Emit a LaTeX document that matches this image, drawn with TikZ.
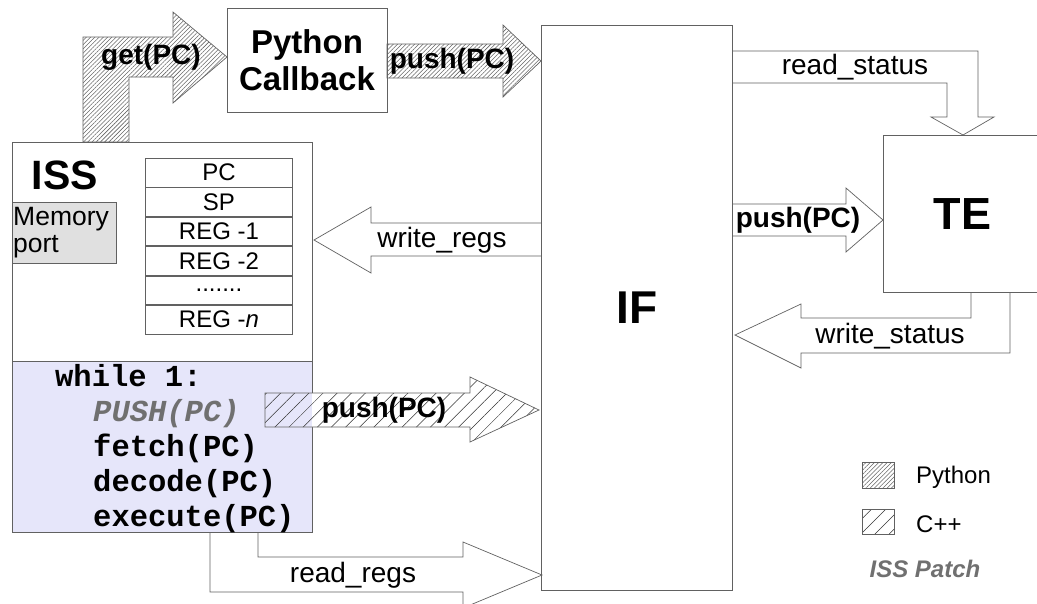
\documentclass[tikz,border=0pt]{standalone}
\usepackage{fontspec}
\setmainfont{Liberation Sans}
\setmonofont{Liberation Mono}
\usetikzlibrary{patterns.meta}

\definecolor{edge}{gray}{0.38}
\definecolor{lav}{RGB}{230,230,250}
\definecolor{portfill}{RGB}{224,224,224}
\definecolor{patchgray}{RGB}{112,112,112}
\newcommand{\fsz}[1]{\fontsize{#1pt}{#1pt}\selectfont}

\begin{document}
\begin{tikzpicture}[x=1pt,y=-1pt,
  box/.style={draw=edge, line width=0.9pt, inner sep=0pt},
  blk/.style={draw=edge, line width=0.7pt, line join=miter},
  pyhatch/.style={pattern={Lines[angle=45,distance=3pt,line width=0.55pt]}, pattern color=black!60},
  cpphatch/.style={pattern={Lines[angle=45,distance=10pt,line width=0.5pt]}, pattern color=black!80},
  lbl/.style={font=\fsz{28}, inner sep=0pt},
  blbl/.style={font=\fsz{28}\bfseries, inner sep=0pt},
  code/.style={font=\fsz{30.5}\ttfamily\bfseries, anchor=base west, inner sep=0pt},
  reg/.style={box, minimum width=147pt, minimum height=28.5pt, anchor=north west, font=\fsz{24}},
  leg/.style={font=\fsz{24}, anchor=west, inner sep=0pt},
]
\path[use as bounding box] (0,0) rectangle (1037,603);
\clip (0,0) rectangle (1037,603);

% ISS: upper part with registers, lower part with the main loop
\node[box, anchor=north west, minimum width=300pt, minimum height=219pt] (iss) at (12,142) {};
\node[box, fill=lav, anchor=north west, minimum width=300pt, minimum height=171pt] (loop) at (12,361) {};
\node[font=\fsz{41}\bfseries, inner sep=0pt] (isslbl) at (65,175) {ISS};

% memory port
\node[box, fill=portfill, anchor=north west, minimum width=104pt, minimum height=61pt] (mem) at (12,202) {};
\node[font=\fsz{26.5}, anchor=base west, inner sep=0pt] (memA) at (13,225) {Memory};
\node[font=\fsz{26.5}, anchor=base west, inner sep=0pt] (memB) at (13,252) {port};

% register file
\node[reg] (r1) at (145,158) {PC};
\node[reg] (r2) at (r1.south west) {SP};
\node[reg] (r3) at (r2.south west) {REG -1};
\node[reg] (r4) at (r3.south west) {REG -2};
\node[reg] (r5) at (r4.south west) {.......};
\node[reg] (r6) at (r5.south west) {REG -\textit{n}};

% main loop
\node[code] (c1) at (55,386) {while 1:};
\node[code, text=patchgray, font=\fsz{30.5}\ttfamily\bfseries\itshape] (c2) at (93,421) {PUSH(PC)};
\node[code] (c3) at (93,456) {fetch(PC)};
\node[code] (c4) at (93,491) {decode(PC)};
\node[code] (c5) at (93,526) {execute(PC)};

% Python callback, interface and trace engine
\node[box, minimum width=160pt, minimum height=104pt, align=center,
      font=\fontsize{33pt}{37pt}\selectfont\bfseries] (cb) at (307,60) {Python\\Callback};
\node[box, anchor=north west, minimum width=191pt, minimum height=565pt, font=\fsz{46}\bfseries] (if) at (541,25) {IF};
\node[box, anchor=north west, minimum width=158pt, minimum height=157pt, font=\fsz{45}\bfseries] (te) at (883,135) {TE};

% get(PC): ISS -> callback
\draw[blk, pyhatch] (83,142) -- (83,37) -- (173,37) -- (173,12) -- (227,57)
  -- (173,103) -- (173,77) -- (129,77) -- (129,142) -- cycle;
\node[blbl] (getlbl) at (151,57) {get(PC)};

% push(PC): callback -> IF
\draw[blk, pyhatch] (387,44) -- (503,44) -- (503,25) -- (541,61) -- (503,97) -- (503,78) -- (387,78) -- cycle;
\node[blbl] (pushA) at (452,61) {push(PC)};

% push(PC): patched loop -> IF (the body covers the loop border)
\begin{scope}
  \clip (265,393) -- (470,393) -- (470,377) -- (539,410) -- (470,442) -- (470,427) -- (265,427) -- cycle;
  \fill[white] (265,370) rectangle (545,450);
  \fill[lav] (265,390) rectangle (312,430);
\end{scope}
\draw[blk, cpphatch] (265,393) -- (470,393) -- (470,377) -- (539,410) -- (470,442) -- (470,427) -- (265,427) -- cycle;
\node[blbl] (pushB) at (384,410) {push(PC)};

% write_regs: IF -> ISS
\draw[blk] (541,223) -- (371,223) -- (371,207) -- (314,240) -- (371,273) -- (371,256) -- (541,256);
\node[lbl] (wregs) at (442,240) {write\_regs};

% read_regs: ISS -> IF
\draw[blk] (210,532) -- (210,592) -- (463,592) -- (463,608) -- (542,575) -- (463,542) -- (463,557) -- (258,557) -- (258,532);
\node[lbl] (rregs) at (353,575) {read\_regs};

% read_status: IF -> TE
\draw[blk] (732,51) -- (978,51) -- (978,117) -- (994,117) -- (963,135) -- (931,117) -- (947,117) -- (947,83) -- (732,83);
\node[lbl] (rstat) at (855,67) {read\_status};

% push(PC): IF -> TE
\draw[blk] (732,204) -- (846,204) -- (846,188) -- (883,220) -- (846,252) -- (846,236) -- (732,236);
\node[blbl] (pushC) at (798,220) {push(PC)};

% write_status: TE -> IF
\draw[blk] (971,292) -- (971,318) -- (801,318) -- (801,304) -- (735,335) -- (801,368) -- (801,353) -- (1010,353) -- (1010,292);
\node[lbl] (wstat) at (890,336) {write\_status};

% legend
\node[draw=edge, line width=0.7pt, pyhatch, anchor=north west, minimum width=32pt, minimum height=26pt, inner sep=0pt] (legpy) at (862,462) {};
\node[leg] (legpylbl) at (916,477) {Python};
\node[draw=edge, line width=0.7pt, cpphatch, anchor=north west, minimum width=32pt, minimum height=25pt, inner sep=0pt] (legcpp) at (862,509) {};
\node[leg] (legcpplbl) at (916,524) {C++};
\node[font=\fsz{24}\bfseries\itshape, text=patchgray, inner sep=0pt] (patch) at (925,569) {ISS Patch};
\end{tikzpicture}
\end{document}
